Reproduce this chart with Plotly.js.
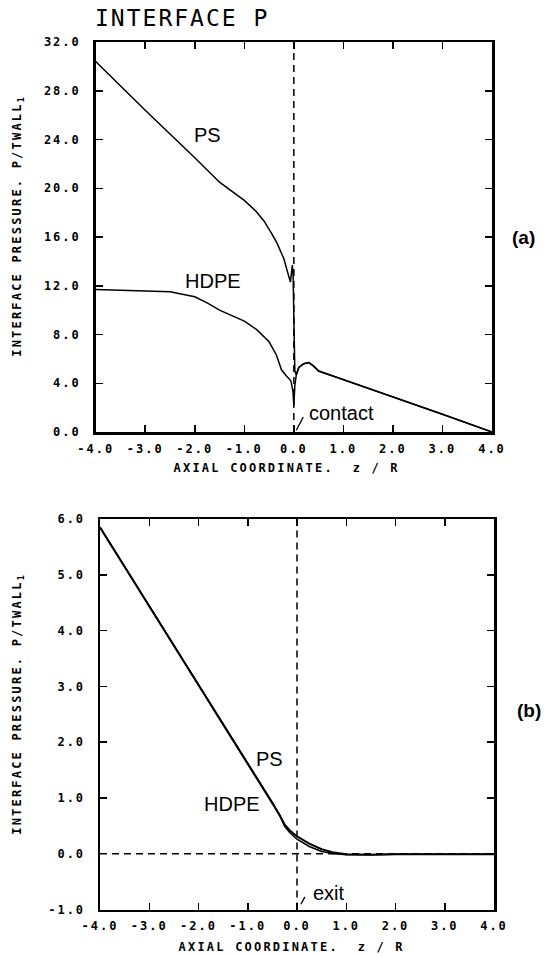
<!DOCTYPE html>
<html>
<head>
<meta charset="utf-8">
<script src="https://cdn.plot.ly/plotly-3.0.1.min.js"></script>
<style>
  html, body { margin: 0; padding: 0; background: #fff; }
  #plot { width: 544px; height: 956px; }
  /* wide plotter-style spacing for the axis titles */
  #plot .annotation[data-index="8"] text,
  #plot .annotation[data-index="9"] text,
  #plot .annotation[data-index="10"] text,
  #plot .annotation[data-index="11"] text { letter-spacing: 2.2px; }
</style>
</head>
<body>
<div id="plot"></div>
<script>
// (a) interface pressure near the contact point
const zPsA   = [-4.0, -3.0, -2.0, -1.5, -1.2, -1.0, -0.76, -0.6, -0.45, -0.34, -0.2, -0.1, -0.07, -0.05, -0.03, -0.015, 0.0, 0.02, 0.05, 0.1, 0.2, 0.3, 0.4, 0.5, 1.0, 2.0, 3.0, 4.0];
const pPsA   = [30.4, 26.4, 22.5, 20.5, 19.6, 19.0, 18.1, 17.3, 16.3, 15.5, 14.2, 12.6, 12.3, 13.0, 13.7, 12.8, 8.5, 5.0, 4.7, 5.3, 5.6, 5.7, 5.4, 5.0, 4.3, 2.9, 1.45, 0.0];
const zHdA   = [-4.0, -3.0, -2.5, -2.0, -1.75, -1.5, -1.0, -0.75, -0.5, -0.35, -0.25, -0.15, -0.06, -0.02, 0.0, 0.02, 0.05, 0.1, 0.2, 0.3, 0.4, 0.5, 1.0, 2.0, 3.0, 4.0];
const pHdA   = [11.7, 11.55, 11.5, 11.1, 10.6, 10.0, 9.1, 8.4, 7.4, 6.3, 5.1, 4.6, 4.2, 3.4, 2.2, 3.8, 4.7, 5.3, 5.6, 5.7, 5.4, 5.0, 4.3, 2.9, 1.45, 0.0];

// (b) interface pressure near the die exit
const zPsB   = [-4.0, -3.0, -2.0, -1.0, -0.5, -0.35, -0.25, -0.15, 0.0, 0.25, 0.5, 0.75, 1.0, 1.5, 2.0, 3.0, 4.0];
const pPsB   = [5.85, 4.44, 3.03, 1.62, 0.92, 0.69, 0.52, 0.42, 0.31, 0.18, 0.08, 0.02, -0.01, -0.02, -0.01, -0.01, -0.01];
const zHdB   = [-4.0, -3.0, -2.0, -1.0, -0.5, -0.35, -0.25, -0.15, 0.0, 0.25, 0.5, 0.75, 1.0, 1.5, 2.0, 3.0, 4.0];
const pHdB   = [5.85, 4.44, 3.03, 1.62, 0.92, 0.68, 0.49, 0.38, 0.26, 0.13, 0.04, 0.0, -0.02, -0.02, -0.01, -0.01, -0.01];

// tick labels
const xTickVals  = [-4, -3, -2, -1, 0, 1, 2, 3, 4];
const xTickText  = ["-4.0", "-3.0", "-2.0", "-1.0", "0.0", "1.0", "2.0", "3.0", "4.0"];
const yTickValsA = [0, 4, 8, 12, 16, 20, 24, 28, 32];
const yTickTextA = ["0.0", "4.0", "8.0", "12.0", "16.0", "20.0", "24.0", "28.0", "32.0"];
const yTickValsB = [-1, 0, 1, 2, 3, 4, 5, 6];
const yTickTextB = ["-1.0", "0.0", "1.0", "2.0", "3.0", "4.0", "5.0", "6.0"];

const W = 544, H = 956;
const MONO = '"DejaVu Sans Mono", monospace';
const SANS = '"Liberation Sans", Arial, sans-serif';
const spaced = (s, px) => '<span style="letter-spacing:' + px + 'px">' + s + '</span>';

const lineA = { color: '#000', width: 1.5 };
const lineB = { color: '#000', width: 2 };

const traces = [
  { x: zPsA, y: pPsA, xaxis: 'x', yaxis: 'y', mode: 'lines', line: lineA, name: 'PS' },
  { x: zHdA, y: pHdA, xaxis: 'x', yaxis: 'y', mode: 'lines', line: lineA, name: 'HDPE' },
  { x: zPsB, y: pPsB, xaxis: 'x2', yaxis: 'y2', mode: 'lines', line: lineB, name: 'PS' },
  { x: zHdB, y: pHdB, xaxis: 'x2', yaxis: 'y2', mode: 'lines', line: { color: '#000', width: 1.5 }, name: 'HDPE' }
];

const tickFont = { family: MONO, size: 12, color: '#000', weight: 'bold' };

function xAxis(domain, anchor) {
  return {
    domain: domain, anchor: anchor, range: [-4, 4],
    tickmode: 'array', tickvals: xTickVals, ticktext: xTickText.map(t => spaced(t, 2)),
    ticks: 'inside', ticklen: 7, tickwidth: 1.5, tickcolor: '#000',
    showline: true, linewidth: 2.5, linecolor: '#000', mirror: 'ticks',
    showgrid: false, zeroline: false, tickfont: tickFont, ticklabelstandoff: 4,
    fixedrange: true
  };
}
function yAxis(domain, anchor, range, vals, text) {
  return {
    domain: domain, anchor: anchor, range: range,
    tickmode: 'array', tickvals: vals, ticktext: text.map(t => spaced(t, 2)),
    ticks: 'inside', ticklen: 7, tickwidth: 1.5, tickcolor: '#000',
    showline: true, linewidth: 2.5, linecolor: '#000', mirror: 'ticks',
    showgrid: false, zeroline: false, tickfont: tickFont, ticklabelstandoff: 10,
    fixedrange: true
  };
}

const dash = { color: '#000', width: 1.5, dash: '7px,5px' };
const labelFont = { family: SANS, size: 20, color: '#000' };
const titleFont = { family: MONO, size: 12, color: '#000', weight: 'bold' };
const panelFont = { family: SANS, size: 19, color: '#000', weight: 'bold' };
const axTitle = 'AXIAL COORDINATE.  z / R';
const prTitle = 'INTERFACE PRESSURE. P/TWALL<sub>1</sub>';

// paper-positioned text, always centred on its point
function pText(px, py, text, font, angle) {
  return { xref: 'paper', yref: 'paper', x: px / W, y: 1 - py / H, xanchor: 'center', yanchor: 'middle',
           text: text, textangle: angle || 0, showarrow: false, font: font };
}

const layout = {
  width: W, height: H,
  margin: { l: 0, r: 0, t: 0, b: 0 },
  paper_bgcolor: '#fff', plot_bgcolor: '#fff',
  showlegend: false,
  title: {
    text: spaced('INTERFACE P', 2), xref: 'paper', yref: 'paper',
    x: 95 / W, xanchor: 'left', y: 1 - 18 / H, yanchor: 'middle',
    font: { family: MONO, size: 23, color: '#000' }
  },
  xaxis:  xAxis([95.7 / W, 492 / W], 'y'),
  yaxis:  yAxis([1 - 432 / H, 1 - 42 / H], 'x', [0, 32], yTickValsA, yTickTextA),
  xaxis2: xAxis([100 / W, 494 / W], 'y2'),
  yaxis2: yAxis([1 - 909.5 / H, 1 - 519 / H], 'x2', [-1, 6], yTickValsB, yTickTextB),
  shapes: [
    { type: 'line', xref: 'x', yref: 'y domain', x0: 0, x1: 0, y0: 0, y1: 1, line: dash },
    { type: 'line', xref: 'x2', yref: 'y2 domain', x0: 0, x1: 0, y0: 0, y1: 1, line: dash },
    { type: 'line', xref: 'x2 domain', yref: 'y2', x0: 0, x1: 1, y0: 0, y1: 0, line: dash, layer: 'below' },
    // pointer strokes for the "contact" and "exit" labels
    { type: 'line', xref: 'x', yref: 'y', x0: 0.05, y0: 0.14, x1: 0.19, y1: 1.23, line: { color: '#000', width: 1.3 } },
    { type: 'line', xref: 'x2', yref: 'y2', x0: 0.08, y0: -0.905, x1: 0.16, y1: -0.774, line: { color: '#000', width: 1.3 } }
  ],
  annotations: [
    { xref: 'x', yref: 'y', x: -1.75, y: 24.33, text: 'PS', showarrow: false, font: labelFont },
    { xref: 'x', yref: 'y', x: -1.64, y: 12.36, text: 'HDPE', showarrow: false, font: labelFont },
    { xref: 'x', yref: 'y', x: 0.27, y: 1.58, text: 'contact', showarrow: false, xanchor: 'left', font: labelFont },
    { xref: 'x2', yref: 'y2', x: -0.56, y: 1.70, text: 'PS', showarrow: false, font: labelFont },
    { xref: 'x2', yref: 'y2', x: -1.33, y: 0.90, text: 'HDPE', showarrow: false, font: labelFont },
    { xref: 'x2', yref: 'y2', x: 0.29, y: -0.71, text: 'exit', showarrow: false, xanchor: 'left', font: labelFont },
    pText(523, 237, '(a)', panelFont),
    pText(529, 710, '(b)', panelFont),
    // axis titles (indices 8-11, spaced out by the stylesheet above)
    pText(287, 468, axTitle, titleFont),
    pText(292, 946.5, axTitle, titleFont),
    pText(18, 226, prTitle, titleFont, -90),
    pText(18, 704, prTitle, titleFont, -90)
  ]
};

Plotly.newPlot('plot', traces, layout, { staticPlot: true, displayModeBar: false });
</script>
</body>
</html>
